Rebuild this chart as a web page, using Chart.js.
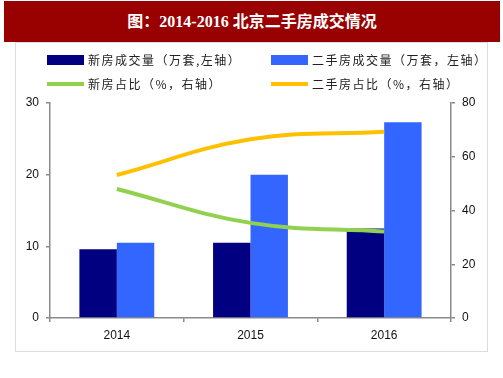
<!DOCTYPE html>
<html><head><meta charset="utf-8">
<script src="https://cdn.jsdelivr.net/npm/chart.js@4/dist/chart.umd.min.js"></script>
<style>
html,body{margin:0;padding:0;background:#fff;width:503px;height:378px;overflow:hidden;}
#banner{position:absolute;left:4px;top:1px;width:496px;height:41px;background:#990000;color:#fff;
font:bold 16px "Liberation Serif","Noto Sans CJK SC",serif;text-align:center;line-height:41px;}
#frame{position:absolute;left:15px;top:42px;width:471px;height:308px;border:1px solid #dcdcdc;}
#wrap{position:relative;width:471px;height:308px;}
</style></head><body>
<div id="banner">图：2014-2016 北京二手房成交情况</div>
<div id="frame"><div id="wrap"><canvas id="c"></canvas></div></div>
<script>
const categories = ['2014','2015','2016'];
const newVolume = [9.6, 10.5, 12.5];
const secondVolume = [10.5, 20.0, 27.3];
const newShare = [48, 35.4, 32.2];
const secondShare = [53.2, 66.5, 69.3];
const seriesLabels = ['新房成交量（万套,左轴）','二手房成交量（万套，左轴）','新房占比（%，右轴）','二手房占比（%，右轴）'];
const leftTicks = [0,10,20,30];
const rightTicks = [0,20,40,60,80];

const legendPlugin = {
  id:'customLegend',
  afterDraw(chart){
    const ctx = chart.ctx;
    const ds = chart.data.datasets;
    const pos = [[31,17],[255,17],[31,41],[255,41]];
    ctx.save();
    ctx.font = '12px "Noto Sans CJK SC", sans-serif';
    ctx.textBaseline = 'middle';
    ds.forEach((d,i)=>{
      const [x,y] = pos[i];
      if (d.type === 'line') {
        ctx.fillStyle = d.borderColor;
        ctx.fillRect(x, y-2, 37, 4);
      } else {
        ctx.fillStyle = d.backgroundColor;
        ctx.fillRect(x, y-5, 37, 10);
      }
      ctx.fillStyle = '#222';
      if ('letterSpacing' in ctx) ctx.letterSpacing = '1.5px';
      ctx.fillText(d.label, x+41, y);
    });
    ctx.restore();
  }
};

const axisColor = '#8a8a8a';
new Chart(document.getElementById('c'), {
  data:{
    labels: categories,
    datasets:[
      {type:'bar', label:seriesLabels[0], data:newVolume, backgroundColor:'#000080', yAxisID:'y', order:1, categoryPercentage:0.56, barPercentage:1},
      {type:'bar', label:seriesLabels[1], data:secondVolume, backgroundColor:'#3366ff', yAxisID:'y', order:1, categoryPercentage:0.56, barPercentage:1},
      {type:'line', label:seriesLabels[2], data:newShare, borderColor:'#92d050', backgroundColor:'#92d050', borderWidth:4, pointRadius:0, tension:0.4, yAxisID:'y1', order:0},
      {type:'line', label:seriesLabels[3], data:secondShare, borderColor:'#ffc000', backgroundColor:'#ffc000', borderWidth:4, pointRadius:0, tension:0.4, yAxisID:'y1', order:0}
    ]
  },
  options:{
    responsive:true, maintainAspectRatio:false, animation:false,
    layout:{padding:{top:60,left:4,right:6,bottom:0}},
    plugins:{legend:{display:false}, tooltip:{enabled:false}},
    scales:{
      x:{offset:true,
        grid:{offset:true, drawOnChartArea:false, tickLength:4, color:axisColor, lineWidth:1.5},
        border:{color:axisColor, width:1.5},
        ticks:{color:'#111', font:{family:'"Liberation Sans", Arial', size:12}, padding:6},
        afterFit(s){ s.height = 33; }},
      y:{position:'left', min:0, max:30,
        afterBuildTicks(s){ s.ticks = leftTicks.map(v=>({value:v})); },
        afterFit(s){ s.width = 30; },
        grid:{drawOnChartArea:false, tickLength:4, color:axisColor, lineWidth:1.5},
        border:{color:axisColor, width:1.5},
        ticks:{color:'#111', font:{family:'"Liberation Sans", Arial', size:12}, padding:7}},
      y1:{position:'right', min:0, max:80,
        afterBuildTicks(s){ s.ticks = rightTicks.map(v=>({value:v})); },
        afterFit(s){ s.width = 30; },
        grid:{drawOnChartArea:false, tickLength:4, color:axisColor, lineWidth:1.5},
        border:{color:axisColor, width:1.5},
        ticks:{color:'#111', font:{family:'"Liberation Sans", Arial', size:12}, padding:7}}
    }
  },
  plugins:[legendPlugin]
});
</script>
</body></html>
